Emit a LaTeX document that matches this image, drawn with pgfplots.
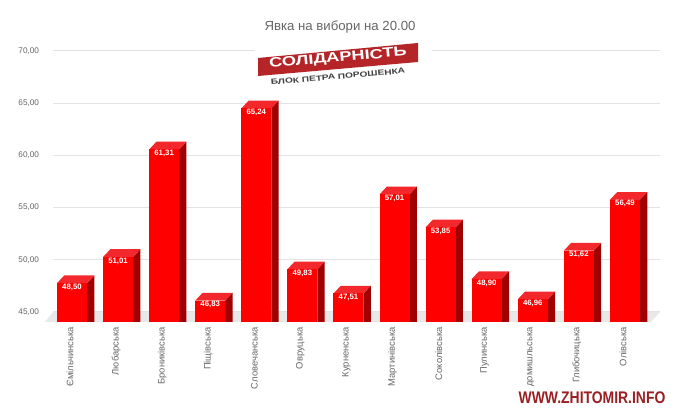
\documentclass[border=0pt]{standalone}
\usepackage{fontspec}
\setmainfont{Liberation Sans}
\usepackage{pgfplots}
\pgfplotsset{compat=1.18}
\definecolor{barfront}{HTML}{FE0000}
\definecolor{bartop}{HTML}{F2282C}
\definecolor{barside}{HTML}{A00000}
\definecolor{gridc}{HTML}{E2E2E2}
\definecolor{floorc}{HTML}{E8E8E8}
\definecolor{txt}{HTML}{666666}
\definecolor{logor}{HTML}{B52528}
% one 3D bar: index, value, label
\newcommand{\tdbar}[3]{%
  \pgfmathsetmacro{\xl}{#1-0.3255}%
  \pgfmathsetmacro{\xr}{#1+0.3255}%
  \pgfmathsetmacro{\xb}{#1+0.3255+0.158}%
  \pgfmathsetmacro{\xc}{#1-0.3255+0.158}%
  \pgfmathsetmacro{\yf}{#2-0.74}%
  \addplot[draw=none,fill=barside,forget plot] coordinates {(\xr,44.04) (\xb,44.04) (\xb,#2) (\xr,\yf)} --cycle;
  \addplot[draw=none,fill=bartop,forget plot] coordinates {(\xl,\yf) (\xc,#2) (\xb,#2) (\xr,\yf)} --cycle;
  \addplot[draw=none,fill=barfront,forget plot] coordinates {(\xl,44.04) (\xr,44.04) (\xr,\yf) (\xl,\yf)} --cycle;
  \pgfmathsetmacro{\yl}{#2-1.12}%
  \edef\tmp{\noexpand\node[text=white,font=\noexpand\bfseries\noexpand\fontsize{7.8}{9}\noexpand\selectfont,inner sep=0pt] at (axis cs:#1,\yl) {#3};}\tmp
}
\begin{document}
\begin{tikzpicture}[x=1pt,y=1pt]
\path[use as bounding box] (0,0) rectangle (678,414);
\fill[white] (0,0) rectangle (678,414);
\begin{axis}[
  at={(53pt,92pt)},anchor=south west,
  scale only axis,width=607pt,height=271pt,
  xmin=-0.412,xmax=12.76,ymin=44.04,ymax=70,
  clip=false,
  axis line style={draw=none},
  tick style={draw=none},
  ymajorgrids,
  grid style={gridc,line width=1pt},
  ytick={45,50,55,60,65,70},
  yticklabels={45{,}00,50{,}00,55{,}00,60{,}00,65{,}00,70{,}00},
  yticklabel style={text=txt,font=\fontsize{8.2}{10}\selectfont,xshift=-10.5pt},
  xtick={0,...,12},
  xticklabels={Ємільчинська,Любарська,Брониківська,Піщівська,Словечанська,Овруцька,Курненська,Мартинівська,Соколівська,Пулинська,домишльська,Глибочицька,Олівська},
  xticklabel style={rotate=90,anchor=east,text=txt,font=\fontsize{9.4}{12}\selectfont,yshift=2pt,inner sep=0pt,xshift=-5pt},
  xtick pos=bottom,
  major tick length=3pt,
]
\addplot[draw=none,fill=floorc,forget plot] coordinates {(-0.412,45) (12.76,45) (12.56,44.04) (-0.586,44.04)} --cycle;
\tdbar{0}{48.50}{48,50}
\tdbar{1}{51.01}{51,01}
\tdbar{2}{61.31}{61,31}
\tdbar{3}{46.83}{46,83}
\tdbar{4}{65.24}{65,24}
\tdbar{5}{49.83}{49,83}
\tdbar{6}{47.51}{47,51}
\tdbar{7}{57.01}{57,01}
\tdbar{8}{53.85}{53,85}
\tdbar{9}{48.90}{48,90}
\tdbar{10}{46.96}{46,96}
\tdbar{11}{51.62}{51,62}
\tdbar{12}{56.49}{56,49}
\end{axis}
% title
\node[text=txt,font=\fontsize{13.2}{15}\selectfont,inner sep=0pt] at (340,387) {Явка на вибори на 20.00};
% logo
\fill[white] (255,338) rectangle (432,370);
\fill[logor] (258,338) -- (418,352) -- (418,371) -- (258,356) -- cycle;
\node[rotate=5,text=white,font=\bfseries\fontsize{13.5}{15}\selectfont,inner sep=0pt] at (338,355.5) {\scalebox{1.35}[1]{СОЛІДАРНІСТЬ}};
\node[rotate=5,text=black!75,font=\bfseries\fontsize{7.5}{9}\selectfont,inner sep=0pt] at (338,337.5) {\scalebox{1.35}[1]{БЛОК ПЕТРА ПОРОШЕНКА}};
% watermark
\fill[white] (517,8) rectangle (668,25);
\node[text=logor!85!black,font=\bfseries\fontsize{16}{18}\selectfont,inner sep=0pt] at (592,16) {\scalebox{0.87}[1.05]{WWW.ZHITOMIR.INFO}};
\end{tikzpicture}
\end{document}
